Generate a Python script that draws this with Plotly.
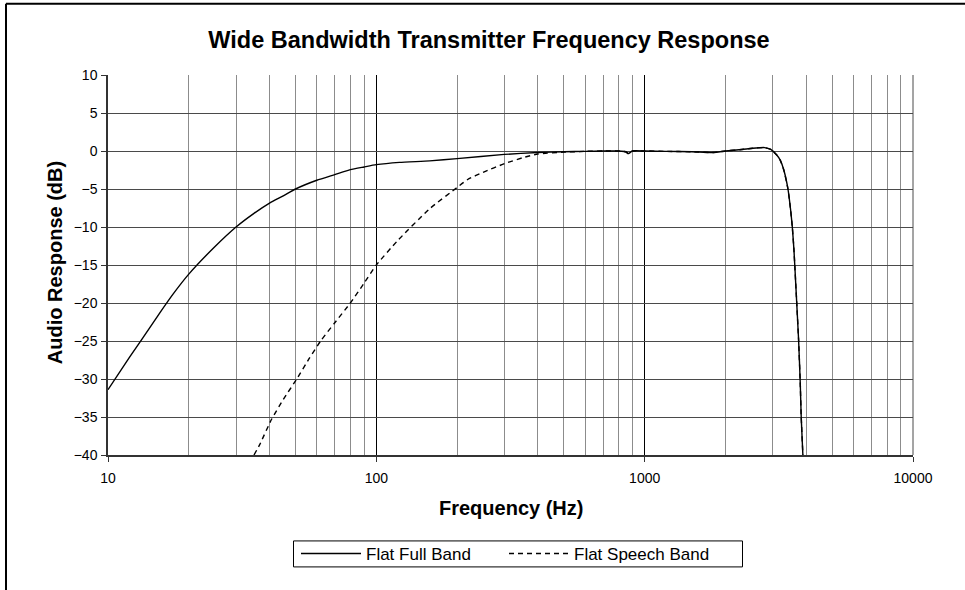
import plotly.graph_objects as go

# Flat Full Band (solid)
full_freq = [10, 12, 15, 15.6, 17.5, 20, 25, 30, 35, 40, 45, 50, 60, 70, 80, 90, 100, 122, 158,
             200, 300, 400, 500, 600, 700, 800, 850, 870, 900, 1000, 1200, 1500, 1800, 2000,
             2300, 2600, 2800, 2950, 3100, 3200, 3300, 3420, 3500, 3550, 3600, 3671, 3747,
             3800, 3832, 3887, 3920]
full_db = [-31.4, -27.2, -22.2, -21.3, -18.8, -16.2, -12.6, -10.0, -8.2, -6.85, -5.9, -5.0,
           -3.85, -3.1, -2.45, -2.1, -1.8, -1.5, -1.3, -1.0, -0.45, -0.2, -0.1, -0.05, 0.0,
           0.0, -0.1, -0.35, 0.0, 0.0, -0.05, -0.1, -0.2, 0.0, 0.2, 0.4, 0.45, 0.2, -0.5,
           -1.2, -2.5, -5.0, -7.8, -10.0, -13.0, -18.7, -24.9, -30.5, -35.0, -40.0, -43.0]

# Flat Speech Band (dashed)
speech_freq = [35, 36.8, 40.7, 45, 50.5, 56, 62, 70, 80, 90, 100, 120, 158, 200, 219, 250,
               301, 350, 400, 500, 600, 700, 800, 850, 870, 900, 1000, 1200, 1500, 1800,
               2000, 2300, 2600, 2800, 2950, 3100, 3200, 3300, 3420, 3500, 3550, 3600, 3671,
               3747, 3800, 3832, 3887, 3920]
speech_db = [-40.0, -38.6, -35.3, -32.7, -30.0, -27.4, -25.0, -22.6, -20.0, -17.4, -15.0,
             -11.8, -7.6, -4.8, -3.75, -2.8, -1.65, -0.9, -0.4, -0.15, -0.05, 0.0, 0.0, -0.1,
             -0.35, 0.0, 0.0, -0.05, -0.1, -0.2, 0.0, 0.2, 0.4, 0.45, 0.2, -0.5, -1.2, -2.5,
             -5.0, -7.8, -10.0, -13.0, -18.7, -24.9, -30.5, -35.0, -40.0, -43.0]

y_ticks = [10, 5, 0, -5, -10, -15, -20, -25, -30, -35, -40]
x_ticks = [10, 100, 1000, 10000]
x_tick_labels = ["10", "100", "1000", "10000"]

FONT = "Liberation Sans, Arial, sans-serif"

W, H = 965, 590
PL, PR, PT, PB = 108, 913, 74.7, 455      # plot area in screen px
L, R, T, B = PL, W - PR, PT, H - PB
pw, ph = PR - PL, PB - PT


def px(xs):  # screen x -> paper
    return (xs - PL) / pw


def py(ys):  # screen y -> paper
    return (PB - ys) / ph


fig = go.Figure()
fig.add_trace(go.Scatter(x=full_freq, y=full_db, mode="lines", name="Flat Full Band",
                         line=dict(color="black", width=1.4, shape="spline", smoothing=0.5)))
fig.add_trace(go.Scatter(x=speech_freq, y=speech_db, mode="lines", name="Flat Speech Band",
                         line=dict(color="black", width=1.4, dash="5px,4px",
                                   shape="spline", smoothing=0.5)))

fig.update_layout(
    width=W, height=H,
    margin=dict(l=L, r=R, t=T, b=B, autoexpand=False),
    paper_bgcolor="white", plot_bgcolor="white",
    font=dict(family=FONT, color="black", size=14),
    title=dict(text="<b>Wide Bandwidth Transmitter Frequency Response</b>",
               x=489 / W, xanchor="center", y=1 - 40 / H, yanchor="middle",
               font=dict(size=23.5, family=FONT, color="black")),
    showlegend=True,
    legend=dict(orientation="h", x=px(296), xanchor="left",
                y=py(554), yanchor="middle",
                borderwidth=0, bgcolor="rgba(0,0,0,0)",
                font=dict(size=17, family=FONT, color="black"),
                itemwidth=60, entrywidth=133, entrywidthmode="pixels"),
    xaxis=dict(type="log", range=[1, 4], tickvals=x_ticks, ticktext=x_tick_labels,
               showgrid=True, gridcolor="black", gridwidth=1,
               minor=dict(dtick="D1", showgrid=True, gridcolor="#8c8c8c", gridwidth=1,
                          ticks=""),
               showline=True, linecolor="#333333", linewidth=1.5, mirror=False,
               ticks="outside", ticklen=5, tickcolor="#333333",
               tickfont=dict(size=14, family=FONT, color="black"),
               ticklabelstandoff=4,
               zeroline=False),
    yaxis=dict(range=[-40, 10], tickvals=y_ticks,
               showgrid=True, gridcolor="#4a4a4a", gridwidth=1,
               showline=True, linecolor="#333333", linewidth=1.5,
               ticks="outside", ticklen=5, tickcolor="#333333",
               tickfont=dict(size=14, family=FONT, color="black"),
               ticklabelstandoff=1,
               zeroline=False),
    annotations=[
        dict(text="<b>Frequency (Hz)</b>", xref="paper", yref="paper",
             x=px(511), y=py(508), xanchor="center", yanchor="middle", showarrow=False,
             font=dict(size=20, family=FONT, color="black")),
        dict(text="<b>Audio Response (dB)</b>", xref="paper", yref="paper",
             x=px(55), y=py(263), xanchor="center", yanchor="middle", showarrow=False,
             textangle=-90, font=dict(size=20, family=FONT, color="black")),
    ],
    shapes=[
        # chart frame (top and left edges)
        dict(type="line", xref="paper", yref="paper",
             x0=px(6), x1=px(970), y0=py(3.5), y1=py(3.5),
             line=dict(color="black", width=2)),
        dict(type="line", xref="paper", yref="paper",
             x0=px(6), x1=px(6), y0=py(3.5), y1=py(600),
             line=dict(color="black", width=2)),
        # plot-area right edge
        dict(type="line", xref="paper", yref="paper",
             x0=1, x1=1, y0=0, y1=1, line=dict(color="#4a4a4a", width=1)),
        # legend box
        dict(type="rect", xref="paper", yref="paper",
             x0=px(293.5), x1=px(742.5), y0=py(541), y1=py(567),
             line=dict(color="black", width=1), fillcolor="rgba(0,0,0,0)"),
    ],
)

fig.write_html("out.html", config={"displayModeBar": False},
               post_script="document.body.style.margin='0';document.body.style.padding='0';")
